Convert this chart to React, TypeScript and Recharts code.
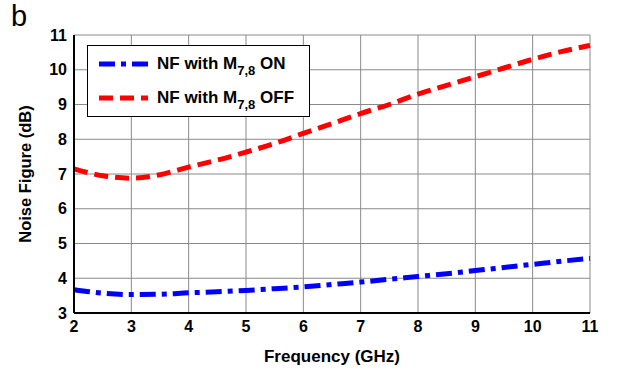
import React from 'react';
import { LineChart, Line, XAxis, YAxis, CartesianGrid } from 'recharts';

const freq = [2, 2.5, 3, 3.5, 4, 4.5, 5, 5.5, 6, 6.5, 7, 7.5, 8, 8.5, 9, 9.5, 10, 10.5, 11];
const nfOff = [7.15, 6.95, 6.88, 6.98, 7.2, 7.4, 7.63, 7.88, 8.17, 8.45, 8.74, 9.0, 9.3, 9.55, 9.8, 10.05, 10.3, 10.52, 10.7];
const nfOn = [3.67, 3.57, 3.53, 3.54, 3.58, 3.61, 3.65, 3.7, 3.75, 3.82, 3.89, 3.97, 4.05, 4.13, 4.22, 4.31, 4.4, 4.49, 4.57];
const xTicks = [2, 3, 4, 5, 6, 7, 8, 9, 10, 11];
const yTicks = [3, 4, 5, 6, 7, 8, 9, 10, 11];

const data = freq.map((f, i) => ({ f, on: nfOn[i], off: nfOff[i] }));

const FONT = '"Liberation Sans", Arial, sans-serif';

const LegendBox = () => {
  const row = (color: string, dash: string, label: string) => (
    <div style={{ display: 'flex', alignItems: 'center', height: 34 }}>
      <svg width={56} height={10} style={{ marginLeft: 10 }}>
        <line x1={1} y1={5} x2={50} y2={5} stroke={color} strokeWidth={5} strokeDasharray={dash} />
      </svg>
      <span style={{ fontWeight: 'bold', fontSize: 17, marginLeft: 3, whiteSpace: 'nowrap' }}>
        NF with M
        <span style={{ fontSize: 13, position: 'relative', top: 6 }}>7,8</span> {label}
      </span>
    </div>
  );
  return (
    <div
      style={{
        position: 'absolute',
        left: 87,
        top: 45,
        width: 223,
        height: 72,
        border: '1px solid #000',
        background: '#fff',
        fontFamily: FONT,
        boxSizing: 'border-box',
        paddingTop: 1,
      }}
    >
      {row('#0000ff', '16 6 5 6', 'ON')}
      {row('#ff0000', '14 7', 'OFF')}
    </div>
  );
};

export default function App() {
  return (
    <div style={{ position: 'absolute', left: 0, top: 0, width: 619, height: 372, background: '#fff' }}>
      <LineChart
        width={619}
        height={372}
        data={data}
        margin={{ top: 35, right: 29, bottom: 0, left: 0 }}
        style={{ fontFamily: FONT }}
      >
        <CartesianGrid stroke="#8a8a8a" strokeWidth={1} vertical horizontal />
        <XAxis
          dataKey="f"
          type="number"
          domain={[2, 11]}
          ticks={xTicks}
          height={59}
          tickLine={false}
          tickSize={0}
          tickMargin={8}
          axisLine={{ stroke: '#000', strokeWidth: 2 }}
          tick={{ fill: '#000', fontSize: 16, fontWeight: 'bold' }}
          label={{ value: 'Frequency (GHz)', position: 'center', dy: 13, fill: '#000', fontSize: 17, fontWeight: 'bold' }}
        />
        <XAxis
          xAxisId="top"
          dataKey="f"
          type="number"
          domain={[2, 11]}
          orientation="top"
          height={0}
          tick={false}
          tickLine={false}
          axisLine={{ stroke: '#000', strokeWidth: 2 }}
        />
        <YAxis
          type="number"
          domain={[3, 11]}
          ticks={yTicks}
          width={74}
          tickLine={false}
          tickSize={0}
          tickMargin={7}
          axisLine={{ stroke: '#000', strokeWidth: 2 }}
          tick={{ fill: '#000', fontSize: 16, fontWeight: 'bold' }}
          label={{ value: 'Noise Figure (dB)', angle: -90, position: 'center', dx: -12, fill: '#000', fontSize: 16.5, fontWeight: 'bold' }}
        />
        <YAxis
          yAxisId="right"
          orientation="right"
          type="number"
          domain={[3, 11]}
          width={0}
          tick={false}
          tickLine={false}
          axisLine={{ stroke: '#000', strokeWidth: 2 }}
        />
        <Line
          type="monotone"
          dataKey="on"
          stroke="#0000ff"
          strokeWidth={5}
          strokeDasharray="16 6 5 6"
          dot={false}
          isAnimationActive={false}
        />
        <Line
          type="monotone"
          dataKey="off"
          stroke="#ff0000"
          strokeWidth={5}
          strokeDasharray="14 7"
          dot={false}
          isAnimationActive={false}
        />
      </LineChart>
      <LegendBox />
      <div
        style={{
          position: 'absolute',
          left: 11,
          top: 2,
          fontFamily: FONT,
          fontSize: 29,
          lineHeight: 1,
        }}
      >
        b
      </div>
    </div>
  );
}
